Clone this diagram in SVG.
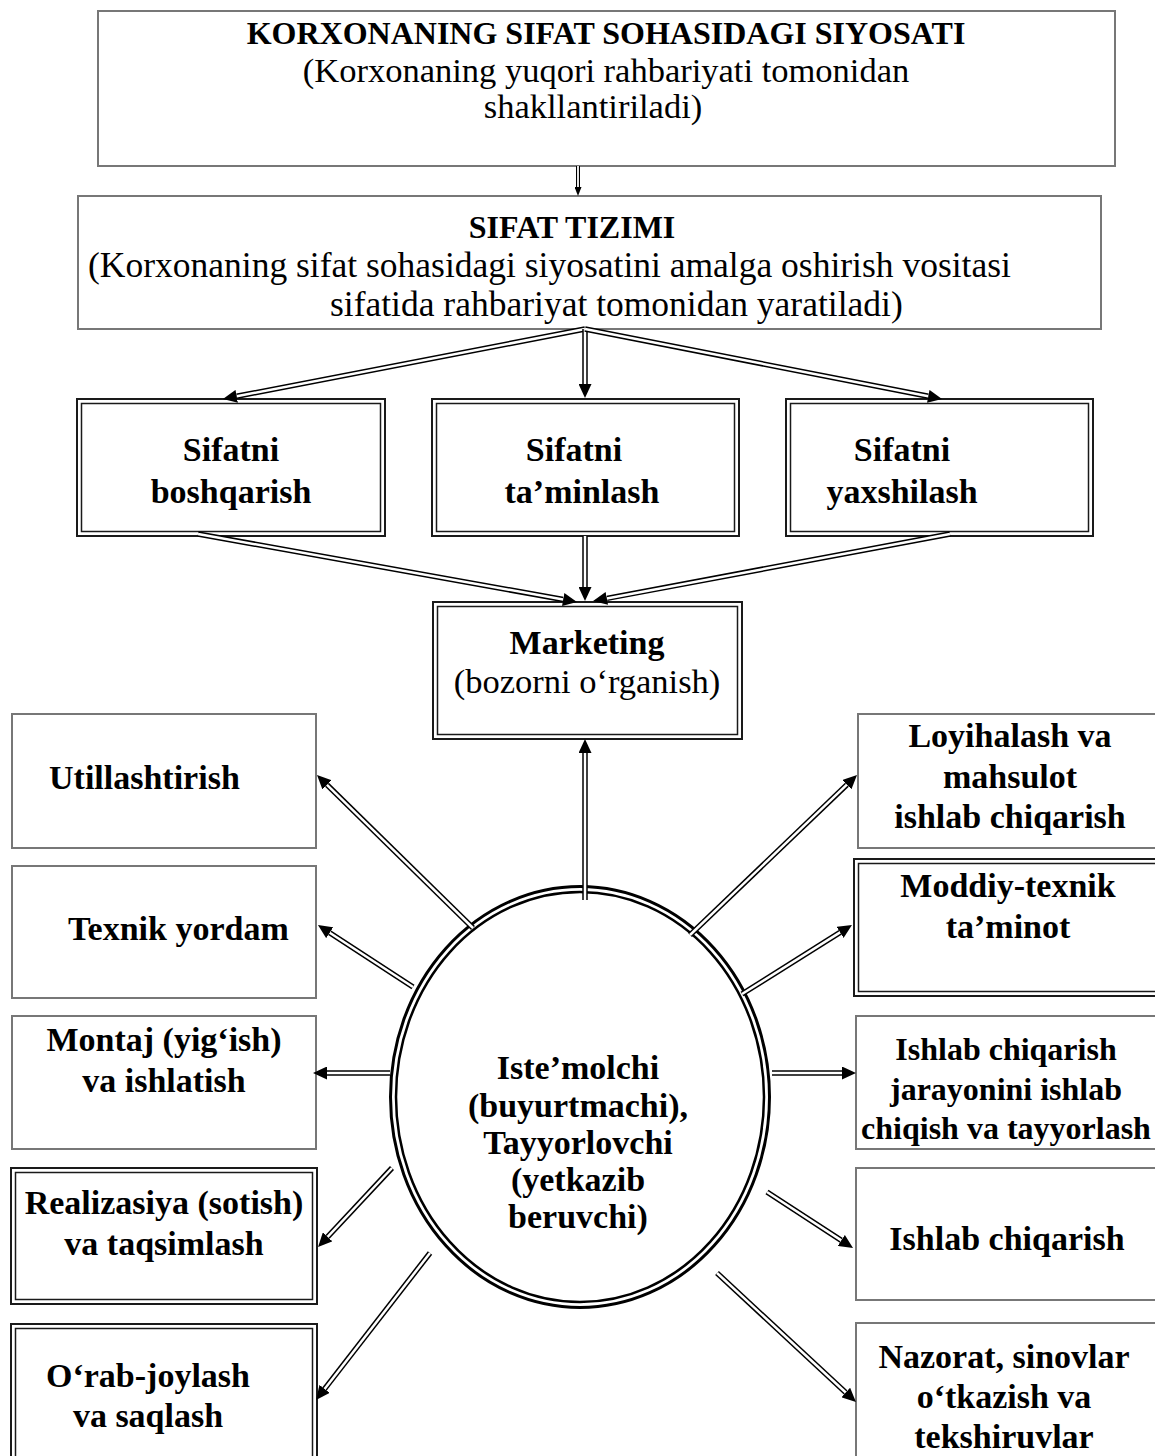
<svg xmlns="http://www.w3.org/2000/svg" width="1155" height="1456" viewBox="0 0 1155 1456">
  <defs>
    <marker id="ah" markerUnits="userSpaceOnUse" markerWidth="14" markerHeight="13" viewBox="0 -6.5 14 13" refX="0" refY="0" orient="auto">
      <path d="M0,-6.5 L14,0 L0,6.5 z" fill="#000"/>
    </marker>
    <marker id="ahs" markerUnits="userSpaceOnUse" markerWidth="9" markerHeight="7" viewBox="0 -3.5 9 7" refX="0" refY="0" orient="auto">
      <path d="M0,-3.5 L9,0 L0,3.5 z" fill="#000"/>
    </marker>
  </defs>
  <style>
    .box{fill:#fff;stroke:#777;stroke-width:2}
    .dbo{fill:#fff;stroke:#1a1a1a;stroke-width:2}
    .dbi{fill:none;stroke:#1a1a1a;stroke-width:1.5}
    .t{font-family:"Liberation Serif","Times New Roman",serif;fill:#000}
    .b{font-weight:bold;font-size:34px}
    .bs{font-weight:bold;font-size:32px}
    .h{font-weight:bold;font-size:32px}
    .r{font-size:35.5px}
    .c{text-anchor:middle}
    .lo{fill:none;stroke:#000;stroke-width:5.5}
    .li{fill:none;stroke:#fff;stroke-width:2.5;marker-end:url(#ah)}
    .so{fill:none;stroke:#000;stroke-width:4}
    .si{fill:none;stroke:#fff;stroke-width:1.8;marker-end:url(#ahs)}
    .eo{fill:#fff;stroke:#000;stroke-width:3}
    .ei{fill:none;stroke:#000;stroke-width:2.5}
  </style>
  <rect width="1155" height="1456" fill="#fff"/>

  <!-- top level: policy and system -->
  <g id="policy">
    <rect class="box" x="98" y="11" width="1017" height="155"/>
    <text class="t h c" x="606" y="44">KORXONANING SIFAT SOHASIDAGI SIYOSATI</text>
    <text class="t c" style="font-size:34.5px" x="606" y="82">(Korxonaning yuqori rahbariyati tomonidan</text>
    <text class="t c" style="font-size:34.5px" x="593" y="118">shakllantiriladi)</text>
  </g>
  <g id="system">
    <rect class="box" x="78" y="196" width="1023" height="133"/>
    <text class="t h c" x="572" y="238">SIFAT TIZIMI</text>
    <text class="t r" x="88" y="277">(Korxonaning sifat sohasidagi siyosatini amalga oshirish vositasi</text>
    <text class="t r" x="330" y="316">sifatida rahbariyat tomonidan yaratiladi)</text>
  </g>

  <!-- three quality functions -->
  <g id="boshqarish">
    <rect class="dbo" x="77" y="399" width="308" height="137"/>
    <rect class="dbi" x="81.5" y="403.5" width="299" height="128"/>
    <text class="t b c" x="231" y="461">Sifatni</text>
    <text class="t b c" x="231" y="503">boshqarish</text>
  </g>
  <g id="taminlash">
    <rect class="dbo" x="432" y="399" width="307" height="137"/>
    <rect class="dbi" x="436.5" y="403.5" width="298" height="128"/>
    <text class="t b c" x="574" y="461">Sifatni</text>
    <text class="t b c" x="582" y="503">ta’minlash</text>
  </g>
  <g id="yaxshilash">
    <rect class="dbo" x="786" y="399" width="307" height="137"/>
    <rect class="dbi" x="790.5" y="403.5" width="298" height="128"/>
    <text class="t b c" x="902" y="461">Sifatni</text>
    <text class="t b c" x="902" y="503">yaxshilash</text>
  </g>

  <g id="marketing">
    <rect class="dbo" x="433" y="602" width="309" height="137"/>
    <rect class="dbi" x="437.5" y="606.5" width="300" height="128"/>
    <text class="t b c" x="587" y="654">Marketing</text>
    <text class="t c" style="font-size:34.5px" x="587" y="693">(bozorni o‘rganish)</text>
  </g>

  <!-- left column -->
  <g id="utillashtirish">
    <rect class="box" x="12" y="714" width="304" height="134"/>
    <text class="t b" x="49" y="789">Utillashtirish</text>
  </g>
  <g id="texnik-yordam">
    <rect class="box" x="12" y="866" width="304" height="132"/>
    <text class="t b" x="68" y="940">Texnik yordam</text>
  </g>
  <g id="montaj">
    <rect class="box" x="12" y="1016" width="304" height="133"/>
    <text class="t b c" x="164" y="1051">Montaj (yig‘ish)</text>
    <text class="t b c" x="164" y="1092">va ishlatish</text>
  </g>
  <g id="realizasiya">
    <rect class="dbo" x="11" y="1168" width="306" height="136"/>
    <rect class="dbi" x="15.5" y="1172.5" width="297" height="127"/>
    <text class="t b c" x="164" y="1214">Realizasiya (sotish)</text>
    <text class="t b c" x="164" y="1255">va taqsimlash</text>
  </g>
  <g id="orab-joylash">
    <rect class="dbo" x="11" y="1324" width="306" height="150"/>
    <rect class="dbi" x="15.5" y="1328.5" width="297" height="150"/>
    <text class="t b c" x="148" y="1387">O‘rab-joylash</text>
    <text class="t b c" x="148" y="1427">va saqlash</text>
  </g>

  <!-- right column -->
  <g id="loyihalash">
    <rect class="box" x="858" y="714" width="310" height="134"/>
    <text class="t b c" x="1010" y="747">Loyihalash va</text>
    <text class="t b c" x="1010" y="788">mahsulot</text>
    <text class="t b c" x="1010" y="828">ishlab chiqarish</text>
  </g>
  <g id="moddiy-texnik">
    <rect class="dbo" x="854" y="859" width="320" height="137"/>
    <rect class="dbi" x="858.5" y="863.5" width="320" height="128"/>
    <text class="t b c" x="1008" y="897">Moddiy-texnik</text>
    <text class="t b c" x="1008" y="938">ta’minot</text>
  </g>
  <g id="jarayon">
    <rect class="box" x="856" y="1016" width="310" height="133"/>
    <text class="t bs c" x="1006" y="1060">Ishlab chiqarish</text>
    <text class="t bs c" x="1006" y="1100">jarayonini ishlab</text>
    <text class="t bs c" x="1006" y="1139">chiqish va tayyorlash</text>
  </g>
  <g id="ishlab-chiqarish">
    <rect class="box" x="856" y="1168" width="310" height="132"/>
    <text class="t b c" x="1007" y="1250">Ishlab chiqarish</text>
  </g>
  <g id="nazorat">
    <rect class="box" x="856" y="1323" width="310" height="150"/>
    <text class="t b c" x="1004" y="1368">Nazorat, sinovlar</text>
    <text class="t b c" x="1004" y="1408">o‘tkazish va</text>
    <text class="t b c" x="1004" y="1448">tekshiruvlar</text>
  </g>

  <!-- central oval -->
  <g id="istemolchi">
    <ellipse class="eo" cx="580" cy="1097" rx="189.5" ry="210.5"/>
    <ellipse class="ei" cx="580" cy="1097" rx="184" ry="205"/>
    <text class="t b c" x="578" y="1079">Iste’molchi</text>
    <text class="t b c" x="578" y="1117">(buyurtmachi),</text>
    <text class="t b c" x="578" y="1154">Tayyorlovchi</text>
    <text class="t b c" x="578" y="1191">(yetkazib</text>
    <text class="t b c" x="578" y="1228">beruvchi)</text>
  </g>

  <!-- connectors: black stroke with a white core gives the double line -->
  <g id="connectors">
    <path class="so" d="M578,166 L578,187"/>
    <path class="si" d="M578,166 L578,187"/>

    <path class="lo" d="M585,329 L236.7,396.3"/>
    <path class="li" d="M585,329 L236.7,396.3"/>
    <path class="lo" d="M585,329 L585,384"/>
    <path class="li" d="M585,329 L585,384"/>
    <path class="lo" d="M585,329 L928.3,396.3"/>
    <path class="li" d="M585,329 L928.3,396.3"/>

    <path class="lo" d="M198,534 L563.2,599.5"/>
    <path class="li" d="M198,534 L563.2,599.5"/>
    <path class="lo" d="M585,536 L585,587"/>
    <path class="li" d="M585,536 L585,587"/>
    <path class="lo" d="M950,534 L606.8,598.4"/>
    <path class="li" d="M950,534 L606.8,598.4"/>

    <path class="lo" d="M585,900 L585,753"/>
    <path class="li" d="M585,900 L585,753"/>

    <path class="lo" d="M473,928 L327,784.8"/>
    <path class="li" d="M473,928 L327,784.8"/>
    <path class="lo" d="M413,987 L329.7,932.7"/>
    <path class="li" d="M413,987 L329.7,932.7"/>
    <path class="lo" d="M390,1073 L327,1073"/>
    <path class="li" d="M390,1073 L327,1073"/>
    <path class="lo" d="M392,1168 L327.6,1236.8"/>
    <path class="li" d="M392,1168 L327.6,1236.8"/>
    <path class="lo" d="M430,1253 L324.6,1388.9"/>
    <path class="li" d="M430,1253 L324.6,1388.9"/>

    <path class="lo" d="M690,935 L846.9,784.7"/>
    <path class="li" d="M690,935 L846.9,784.7"/>
    <path class="lo" d="M742,994 L840.1,932.4"/>
    <path class="li" d="M742,994 L840.1,932.4"/>
    <path class="lo" d="M772,1073 L842,1073"/>
    <path class="li" d="M772,1073 L842,1073"/>
    <path class="lo" d="M767,1192 L841.3,1240.4"/>
    <path class="li" d="M767,1192 L841.3,1240.4"/>
    <path class="lo" d="M717,1273 L845.7,1392.5"/>
    <path class="li" d="M717,1273 L845.7,1392.5"/>
  </g>
</svg>
